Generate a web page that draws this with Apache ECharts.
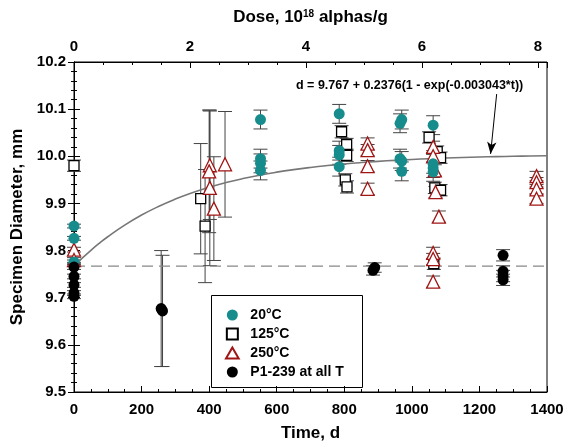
<!DOCTYPE html>
<html><head><meta charset="utf-8">
<script src="https://cdn.jsdelivr.net/npm/echarts@6/dist/echarts.min.js"></script>
<style>html,body{margin:0;padding:0;background:#fff}#c{width:573px;height:448px}</style>
</head><body><div id="c"></div>
<script>
// ---- Data ----
const t20 = [0,0,0, 552,552,552,552, 785,785,785,785, 965,970,965,970,970, 1063,1063,1063,1063];
const d20 = [9.852,9.826,9.776, 10.078,9.995,9.985,9.970, 10.090,10.012,10.003,9.978, 10.070,10.078,9.995,9.990,9.968, 10.066,9.984,9.975,9.967];
const e20 = [0.004,0.004,0.004, 0.02,0.02,0.02,0.02, 0.02,0.02,0.02,0.02, 0.02,0.02,0.02,0.02,0.02, 0.02,0.02,0.02,0.02];

const t125 = [0, 375, 388, 792, 807, 807, 803, 808, 1051, 1075, 1085, 1068, 1085, 1065];
const d125 = [9.980, 9.910, 9.852, 10.052, 10.025, 10.002, 9.950, 9.935, 10.040, 10.010, 9.997, 9.933, 9.928, 9.772];
const e125 = [0.012, 0.117, 0.12, 0.013, 0.013, 0.013, 0.013, 0.013, 0.012, 0.012, 0.012, 0.012, 0.012, 0.012];

const t250 = [0, 0, 402, 400, 402, 414, 447, 869, 869, 869, 869, 1063, 1063, 1068, 1070, 1080, 1063, 1063, 1063, 1369, 1369, 1369, 1369];
const d250 = [9.802, 9.780, 9.981, 9.968, 9.933, 9.889, 9.983, 10.027, 10.013, 9.979, 9.931, 10.020, 10.000, 9.970, 9.924, 9.872, 9.795, 9.782, 9.734, 9.958, 9.945, 9.930, 9.910];
const e250 = [0.005, 0.005, 0.115, 0.13, 0.165, 0.11, 0.112, 0.012, 0.012, 0.012, 0.012, 0.012, 0.012, 0.012, 0.012, 0.012, 0.012, 0.012, 0.012, 0.01, 0.01, 0.01, 0.01];

const tP = [0, 0, 0, 0, 0, 258, 262, 885, 890, 1270, 1270, 1270, 1270];
const dP = [9.765, 9.745, 9.727, 9.710, 9.703, 9.677, 9.672, 9.758, 9.764, 9.790, 9.756, 9.746, 9.738];
const eP = [0.005, 0.005, 0.005, 0.005, 0.005, 0.123, 0.118, 0.01, 0.01, 0.012, 0.012, 0.012, 0.012];

// Fit shown on chart: d = 9.767 + 0.2376(1 - exp(-0.003043*t))
const fitD0 = 9.767, fitA = 0.2376, fitK = 0.003043;
const fitTimes = [0,25,50,75,100,150,200,250,300,350,400,450,500,550,600,650,700,750,800,850,900,950,1000,1050,1100,1150,1200,1250,1300,1350,1400];
const baseLine = 9.767;

const timeTicks = [0,200,400,600,800,1000,1200,1400];
const doseTicks = [0,2,4,6,8];
const diamTicks = [9.5,9.6,9.7,9.8,9.9,10.0,10.1,10.2];
const doseMax = 8.155;

// ---- Build ----
const FONT = "'Liberation Sans', Arial, sans-serif";
const pts = (t, d) => t.map((x, i) => [x, d[i]]);
const errs = [].concat(
  t20.map((x,i)=>[x,d20[i],e20[i]]),
  t125.map((x,i)=>[x,d125[i],e125[i]]),
  t250.map((x,i)=>[x,d250[i],e250[i]]),
  tP.map((x,i)=>[x,dP[i],eP[i]])
);
const fitData = fitTimes.map(t => [t, fitD0 + fitA * (1 - Math.exp(-fitK * t))]);
const lbl = {fontFamily: FONT, fontWeight: 'bold', fontSize: 15, color: '#000'};
const tick = {show: true, inside: true, length: 6, lineStyle: {color: '#000'}};
const minor = {show: true, splitNumber: 4, length: 3, lineStyle: {color: '#000'}};
const SQ = 'path://M0,0L10,0L10,10L0,10Z';
const TRI = 'path://M6,0L12,10.4L0,10.4Z';

const chart = echarts.init(document.getElementById('c'));
chart.setOption({
  animation: false,
  backgroundColor: '#fff',
  grid: {left: 74, right: 26, top: 62, bottom: 56, show: true, borderColor: '#000', borderWidth: 1, backgroundColor: 'transparent'},
  xAxis: [{
    type: 'value', position: 'bottom', min: timeTicks[0], max: timeTicks[timeTicks.length-1], interval: 200,
    axisLine: {show: true, lineStyle: {color: '#000'}}, axisTick: tick, minorTick: minor,
    splitLine: {show: false}, minorSplitLine: {show: false},
    axisLabel: Object.assign({margin: 10, formatter: v => String(v)}, lbl),
    name: 'Time, d', nameLocation: 'middle', nameGap: 33,
    nameTextStyle: {fontFamily: FONT, fontWeight: 'bold', fontSize: 17, color: '#000'}
  }, {
    type: 'value', position: 'top', min: doseTicks[0], max: doseMax, interval: 2,
    axisLine: {show: true, lineStyle: {color: '#000'}}, axisTick: tick, minorTick: minor,
    splitLine: {show: false},
    axisLabel: Object.assign({margin: 8, showMaxLabel: false, formatter: v => (doseTicks.indexOf(v) >= 0 ? String(v) : '')}, lbl),
    name: 'Dose, 10{s|18} alphas/g', nameLocation: 'middle', nameGap: 36,
    nameTextStyle: {fontFamily: FONT, fontWeight: 'bold', fontSize: 17, color: '#000',
      rich: {s: {fontFamily: FONT, fontWeight: 'bold', fontSize: 10, color: '#000', verticalAlign: 'top', lineHeight: 10, padding: [0,0,8,0]}}}
  }],
  yAxis: [{
    type: 'value', position: 'left', min: diamTicks[0], max: diamTicks[diamTicks.length-1], interval: 0.1,
    axisLine: {show: true, lineStyle: {color: '#000'}}, axisTick: tick, minorTick: Object.assign({}, minor, {splitNumber: 5}),
    splitLine: {show: false},
    axisLabel: Object.assign({margin: 8, formatter: v => v.toFixed(1)}, lbl),
    name: 'Specimen Diameter, mm', nameLocation: 'middle', nameGap: 44,
    nameTextStyle: {fontFamily: FONT, fontWeight: 'bold', fontSize: 17, color: '#000'}
  }, {
    type: 'value', position: 'right', min: diamTicks[0], max: diamTicks[diamTicks.length-1], interval: 0.1,
    axisLine: {show: true, lineStyle: {color: '#000'}}, axisTick: tick, minorTick: Object.assign({}, minor, {splitNumber: 5}),
    splitLine: {show: false}, axisLabel: {show: false}
  }],
  legend: {
    orient: 'vertical', left: 220, top: 303, itemGap: 5, itemWidth: 26, itemHeight: 11, symbolKeepAspect: true,
    textStyle: {fontFamily: FONT, fontWeight: 'bold', fontSize: 14, color: '#000'},
    data: [
      {name: '20°C', icon: 'circle'},
      {name: '125°C', icon: SQ},
      {name: '250°C', icon: TRI},
      {name: 'P1-239 at all T', icon: 'circle'}
    ]
  },
  graphic: [
    {type: 'rect', left: 209, top: 293, shape: {width: 151, height: 92}, style: {fill: 'none', stroke: '#000', lineWidth: 1}, z: 100},
    {type: 'text', left: 296, top: 79, style: {text: 'd = 9.767 + 0.2376(1 - exp(-0.003043*t))', font: "bold 12.5px 'Liberation Sans', Arial", fill: '#000'}, z: 100}
  ],
  series: [
    {
      type: 'custom', name: 'err', xAxisIndex: 0, yAxisIndex: 0, z: 1, silent: true,
      data: errs,
      renderItem: function (params, api) {
        const t = api.value(0), v = api.value(1), e = api.value(2);
        const hi = api.coord([t, v + e]), lo = api.coord([t, v - e]);
        const w = 7;
        const st = {stroke: '#444', lineWidth: 1, fill: 'none'};
        return {type: 'group', children: [
          {type: 'line', shape: {x1: hi[0], y1: hi[1], x2: lo[0], y2: lo[1]}, style: st},
          {type: 'line', shape: {x1: hi[0]-w, y1: hi[1], x2: hi[0]+w, y2: hi[1]}, style: st},
          {type: 'line', shape: {x1: lo[0]-w, y1: lo[1], x2: lo[0]+w, y2: lo[1]}, style: st}
        ]};
      }
    },
    {
      type: 'line', name: 'fit', data: fitData, smooth: true, showSymbol: false, z: 2,
      lineStyle: {color: '#777', width: 1.6},
      markLine: {silent: true, symbol: ['none', 'arrow'], symbolSize: [7, 12],
        lineStyle: {color: '#000', width: 1, type: 'solid'}, label: {show: false},
        data: [[{coord: [1251, 10.132]}, {coord: [1233, 10.005]}]]}
    },
    {
      type: 'line', name: 'base', data: [[timeTicks[0], baseLine], [timeTicks[timeTicks.length-1], baseLine]], showSymbol: false, z: 2,
      lineStyle: {color: '#888', width: 1.3, type: [11, 6]}
    },
    {type: 'scatter', name: '20°C', data: pts(t20, d20), symbol: 'circle', symbolSize: 11, z: 5,
      itemStyle: {color: '#178c8c', opacity: 1}},
    {type: 'scatter', name: '125°C', data: pts(t125, d125), symbol: 'rect', symbolSize: 10, z: 4,
      itemStyle: {color: '#fff', borderColor: '#000', borderWidth: 1.3, opacity: 1}},
    {type: 'scatter', name: '250°C', data: pts(t250, d250), symbol: 'triangle', symbolSize: 13, z: 4,
      itemStyle: {color: '#fff', borderColor: '#a01414', borderWidth: 1.3, opacity: 1}},
    {type: 'scatter', name: 'P1-239 at all T', data: pts(tP, dP), symbol: 'circle', symbolSize: 11, z: 5,
      itemStyle: {color: '#000', opacity: 1}}
  ]
});
</script></body></html>
